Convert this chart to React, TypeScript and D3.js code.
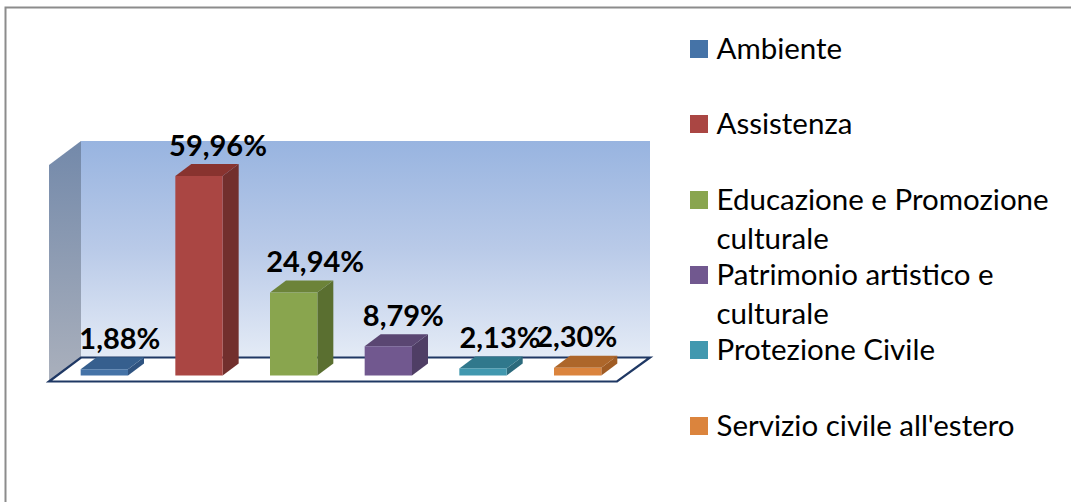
import React from "react";
import * as d3 from "d3";

const categories = ["Ambiente", "Assistenza", "Educazione e Promozione culturale", "Patrimonio artistico e culturale", "Protezione Civile", "Servizio civile all'estero"];
const values = [1.88, 59.96, 24.94, 8.79, 2.13, 2.3];
const valueLabels = ["1,88%", "59,96%", "24,94%", "8,79%", "2,13%", "2,30%"];
const frontColors = ["#4573a7", "#aa4643", "#89a54e", "#71588f", "#4198af", "#db843d"];
const topColors = ["#365f8e", "#88332f", "#6c8339", "#5a4672", "#30788c", "#ad662a"];
const sideColors = ["#2f5380", "#722f2d", "#5a6f30", "#4f3e65", "#2c6a7c", "#a05c24"];
const legendLines = [["Ambiente"], ["Assistenza"], ["Educazione e Promozione", "culturale"], ["Patrimonio artistico e", "culturale"], ["Protezione Civile"], ["Servizio civile all'estero"]];

const W = 1071, H = 502;
const depthX = 16, depthY = 12;
const floorFront = 381.5, floorBack = 357.5;
const wallLeft = 81, wallRight = 650, wallTop = 141;
const sideLeft = 49;
const baseY = 375.5;
const labelDx = [15.5, 19, 21.5, 15, 17, -1];
const legendRowY = [49, 124, 200, 275, 350, 426];

const x = d3.scaleBand<string>().domain(categories).range([57, 625]).paddingInner(0.5).paddingOuter(0.25);
const y = d3.scaleLinear().domain([0, 59.96]).range([baseY, 176]);
const poly = d3.line();
const font = "Lato, Carlito, sans-serif";

export default function App() {
  const bw = x.bandwidth();
  return (
    <svg width={W} height={H} viewBox={`0 0 ${W} ${H}`} style={{ position: "absolute", left: 0, top: 0, background: "#fff" }} fontFamily={font}>
      <defs>
        <linearGradient id="wall" x1="0" y1="0" x2="0" y2="1">
          <stop offset="0" stopColor="#98b4e0" />
          <stop offset="0.5" stopColor="#b9cae8" />
          <stop offset="1" stopColor="#e4ebf6" />
        </linearGradient>
        <linearGradient id="side" x1="0" y1="0" x2="0" y2="1">
          <stop offset="0" stopColor="#7389aa" />
          <stop offset="1" stopColor="#aab0bc" />
        </linearGradient>
      </defs>
      <path d="M5.5,502V7.5H1071" fill="none" stroke="#8c8c8c" strokeWidth={2} />
      <rect x={wallLeft} y={wallTop} width={wallRight - wallLeft} height={floorBack - wallTop} fill="url(#wall)" />
      <path d={poly([[sideLeft, wallTop + depthY * 2], [wallLeft, wallTop], [wallLeft, floorBack], [sideLeft, floorFront]])!} fill="url(#side)" />
      <path d={poly([[sideLeft, floorFront], [wallLeft, floorBack], [wallRight, floorBack], [617, floorFront]])! + "Z"} fill="#fff" stroke="#1f3864" strokeWidth={2.2} />
      {categories.map((c, i) => {
        const x0 = x(c)!;
        const top = y(values[i]);
        return (
          <g key={c}>
            <path d={poly([[x0 + bw, top], [x0 + bw + depthX, top - depthY], [x0 + bw + depthX, baseY - depthY], [x0 + bw, baseY]])!} fill={sideColors[i]} />
            <path d={poly([[x0, top], [x0 + depthX, top - depthY], [x0 + bw + depthX, top - depthY], [x0 + bw, top]])!} fill={topColors[i]} />
            <rect x={x0} y={top} width={bw} height={baseY - top} fill={frontColors[i]} />
            <text x={x0 + bw / 2 + labelDx[i]} y={top - 20.5} textAnchor="middle" fontWeight={700} fontSize={29} fill="#000">{valueLabels[i]}</text>
          </g>
        );
      })}
      {legendLines.map((lines, i) => (
        <g key={i}>
          <rect x={690} y={legendRowY[i] - 9} width={18} height={18} fill={frontColors[i]} />
          {lines.map((t, j) => (
            <text key={t} x={716.5} y={legendRowY[i] + 9.5 + j * 39} fontSize={29.5} fill="#000">{t}</text>
          ))}
        </g>
      ))}
    </svg>
  );
}
